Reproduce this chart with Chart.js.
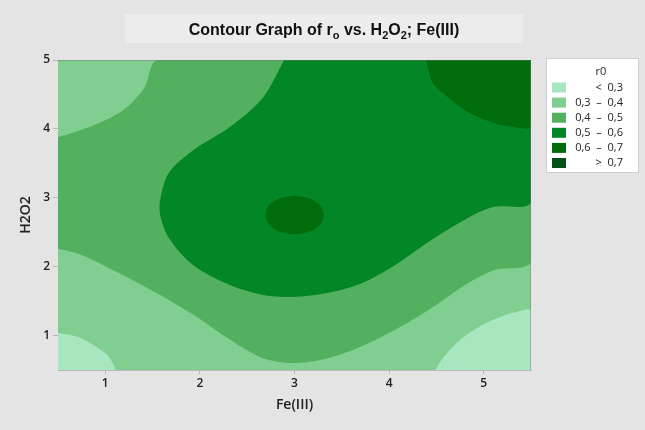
<!DOCTYPE html>
<html>
<head>
<meta charset="utf-8">
<script src="https://cdn.jsdelivr.net/npm/chart.js@4.4.1/dist/chart.umd.min.js"></script>
<style>
  html, body { margin: 0; padding: 0; background: #e4e4e4; }
  canvas { display: block; }
</style>
</head>
<body>
<canvas id="chart" width="645" height="430"></canvas>
<script>
const feRange = [0.5, 5.5];
const h2o2Range = [0.5, 5];
const feTicks = [1, 2, 3, 4, 5];
const h2o2Ticks = [1, 2, 3, 4, 5];

// contour lines, as [Fe(III), H2O2]
const c03BottomLeft = [[0.5, 1.04], [0.73, 0.97], [0.91, 0.83], [1.02, 0.72], [1.07, 0.62], [1.10, 0.5]];
const c03BottomRight = [[4.49, 0.5], [4.54, 0.62], [4.64, 0.79], [4.78, 0.97], [4.93, 1.11], [5.10, 1.23], [5.31, 1.33], [5.5, 1.36]];
const c04TopLeft = [[0.5, 3.88], [0.58, 3.91], [0.89, 4.06], [1.19, 4.27], [1.41, 4.59], [1.56, 5]];
const c04Bottom = [[0.5, 2.26], [0.75, 2.17], [1.14, 1.91], [1.63, 1.55], [1.98, 1.26], [2.32, 0.94], [2.67, 0.67], [2.98, 0.60],
  [3.32, 0.66], [3.67, 0.82], [4.06, 1.08], [4.45, 1.40], [4.80, 1.73], [5.11, 1.95], [5.5, 2.08]];
const c05 = [[2.89, 5], [2.67, 4.46], [2.32, 4.03], [1.93, 3.69], [1.67, 3.36], [1.58, 2.97], [1.58, 2.75], [1.67, 2.42],
  [1.93, 2.02], [2.32, 1.73], [2.67, 1.59], [2.98, 1.56], [3.36, 1.62], [3.71, 1.76], [4.06, 2.02], [4.45, 2.39],
  [4.89, 2.75], [5.11, 2.87], [5.5, 2.94]];
const c06TopRight = [[4.39, 5], [4.46, 4.67], [4.57, 4.52], [4.72, 4.35], [4.89, 4.20], [5.10, 4.09], [5.31, 4.03], [5.5, 4.03]];
const c06Centre = [[3.00, 3.03], [3.16, 2.99], [3.27, 2.89], [3.31, 2.75], [3.27, 2.61], [3.16, 2.51], [3.00, 2.47],
  [2.84, 2.51], [2.73, 2.61], [2.69, 2.75], [2.73, 2.89], [2.84, 2.99], [3.00, 3.03]];

const levelLabels = ['<  0,3', '0,3  \u2013  0,4', '0,4  \u2013  0,5', '0,5  \u2013  0,6', '0,6  \u2013  0,7', '>  0,7'];
const levelColors = ['#a7e6be', '#81ce91', '#53b05e', '#038625', '#006c0b', '#005018'];

const [x0, x1] = feRange;
const [y0, y1] = h2o2Range;

// filled regions, bottom layer first
const regions = [
  { level: 1, pts: [[x0, y0], [x1, y0], [x1, y1], [x0, y1]] },
  { level: 2, pts: [...c04TopLeft, [x1, y1], ...c04Bottom.slice().reverse()] },
  { level: 3, pts: [...c05, [x1, y1]] },
  { level: 4, pts: [...c06TopRight, [x1, y1]] },
  { level: 4, pts: c06Centre },
  { level: 0, pts: [...c03BottomLeft, [x0, y0]] },
  { level: 0, pts: [...c03BottomRight, [x1, y0]] }
];

const datasets = regions.map((r, i) => ({
  label: levelLabels[r.level],
  data: r.pts.map(p => ({ x: p[0], y: p[1] })),
  backgroundColor: levelColors[r.level],
  borderColor: 'transparent',
  borderWidth: 0,
  pointRadius: 0,
  tension: 0.3,
  fill: 'shape',
  order: regions.length - i
}));

const FONT = "'Open Sans', 'Noto Sans', sans-serif";

const titlePlugin = {
  id: 'titleBox',
  beforeDraw(chart) {
    const ctx = chart.ctx;
    ctx.save();
    ctx.fillStyle = '#ececec';
    ctx.fillRect(125, 14, 398, 29);
    const parts = [['Contour Graph of r', false], ['o', true], [' vs. H', false], ['2', true], ['O', false], ['2', true], ['; Fe(III)', false]];
    const big = "bold 16px 'Liberation Sans', Arial, sans-serif";
    const small = "bold 11px 'Liberation Sans', Arial, sans-serif";
    let w = 0;
    parts.forEach(p => { ctx.font = p[1] ? small : big; w += ctx.measureText(p[0]).width; });
    let x = 324 - w / 2;
    ctx.fillStyle = '#111';
    ctx.textBaseline = 'alphabetic';
    parts.forEach(p => {
      ctx.font = p[1] ? small : big;
      ctx.fillText(p[0], x, p[1] ? 39 : 35);
      x += ctx.measureText(p[0]).width;
    });
    ctx.restore();
  }
};

const legendPlugin = {
  id: 'levelLegend',
  afterDraw(chart) {
    const ctx = chart.ctx;
    ctx.save();
    ctx.fillStyle = '#ffffff';
    ctx.fillRect(546, 58, 93, 115);
    ctx.strokeStyle = '#cfcfcf';
    ctx.lineWidth = 1;
    ctx.strokeRect(546.5, 58.5, 92, 114);
    ctx.fillStyle = '#222';
    ctx.font = '11px ' + FONT;
    ctx.textBaseline = 'middle';
    ctx.textAlign = 'center';
    ctx.fillText('r0', 601, 72);
    ctx.textAlign = 'right';
    levelLabels.forEach((lab, i) => {
      const cy = 87.5 + i * 15.1;
      ctx.fillStyle = levelColors[i];
      ctx.fillRect(552, cy - 5, 14, 10);
      ctx.fillStyle = '#222';
      ctx.fillText(lab, 623, cy);
    });
    ctx.restore();
  }
};

const framePlugin = {
  id: 'frame',
  afterDatasetsDraw(chart) {
    const { left, right, top, bottom } = chart.chartArea;
    const ctx = chart.ctx;
    ctx.save();
    ctx.strokeStyle = 'rgba(120,120,120,0.45)';
    ctx.lineWidth = 1;
    ctx.beginPath();
    ctx.moveTo(left, top + 0.5);
    ctx.lineTo(right - 0.5, top + 0.5);
    ctx.lineTo(right - 0.5, bottom);
    ctx.stroke();
    ctx.restore();
  }
};

new Chart(document.getElementById('chart'), {
  type: 'line',
  data: { datasets },
  options: {
    responsive: false,
    animation: false,
    events: [],
    layout: { padding: { left: 0, top: 60, right: 114, bottom: 0 } },
    plugins: {
      legend: { display: false },
      tooltip: { enabled: false },
      title: { display: false }
    },
    scales: {
      x: {
        type: 'linear',
        min: x0,
        max: x1,
        afterBuildTicks: s => { s.ticks = feTicks.map(v => ({ value: v })); },
        afterFit: s => { s.height = 60; },
        grid: { drawOnChartArea: false, drawTicks: true, tickLength: 4, color: '#b8b8b8' },
        border: { color: '#b8b8b8' },
        ticks: { color: '#222', padding: 2, maxRotation: 0, font: { family: FONT, size: 12, weight: '600' } },
        title: { display: true, text: 'Fe(III)', color: '#222', padding: { top: 0, bottom: 17 }, font: { family: FONT, size: 14, weight: '600' } }
      },
      y: {
        type: 'linear',
        min: y0,
        max: y1,
        afterBuildTicks: s => { s.ticks = h2o2Ticks.map(v => ({ value: v })); },
        afterFit: s => { s.width = 58; },
        grid: { drawOnChartArea: false, drawTicks: true, tickLength: 5, color: '#b8b8b8' },
        border: { color: '#b8b8b8' },
        ticks: { color: '#222', padding: 3, font: { family: FONT, size: 12, weight: '600' } },
        title: { display: true, text: 'H2O2', color: '#222', padding: { top: 18, bottom: 0 }, font: { family: FONT, size: 14, weight: '600' } }
      }
    }
  },
  plugins: [titlePlugin, legendPlugin, framePlugin]
});
</script>
</body>
</html>
